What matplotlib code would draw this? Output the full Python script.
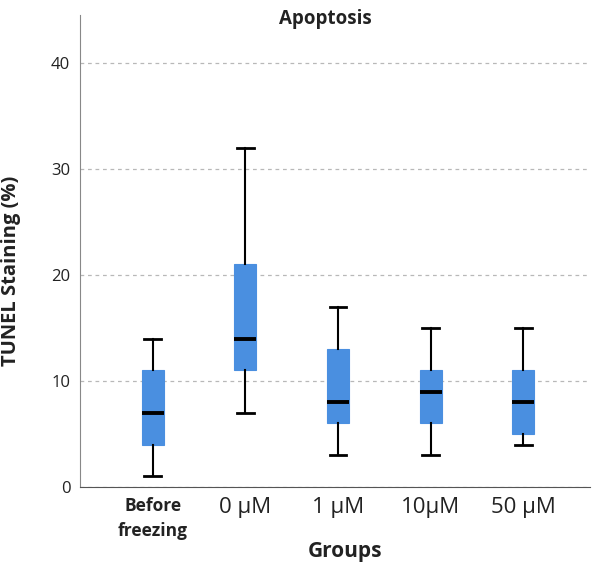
import matplotlib
matplotlib.use('Agg')
import matplotlib.pyplot as plt

# Data (TUNEL staining %)
groups  = ['Before\nfreezing', '0 \u00b5M', '1 \u00b5M', '10\u00b5M', '50 \u00b5M']
whislo  = [1, 7, 3, 3, 4]
q1      = [4, 11, 6, 6, 5]
medians = [7, 14, 8, 9, 8]
q3      = [11, 21, 13, 11, 11]
whishi  = [14, 32, 17, 15, 15]

BOX   = '#4a8fe0'
GRID  = '#b8b8b8'
TEXT  = '#222222'

plt.rcParams['font.family'] = ['Open Sans', 'DejaVu Sans']

fig = plt.figure(figsize=(5.95, 5.63), dpi=100, facecolor='white')
ax = fig.add_axes([80/595, 1 - 487/563, 510/595, 472/563])

stats = []
for i in range(len(groups)):
    stats.append(dict(whislo=whislo[i], q1=q1[i], med=medians[i],
                      q3=q3[i], whishi=whishi[i], fliers=[]))

ax.bxp(stats, positions=range(len(groups)), widths=0.24, patch_artist=True,
       showfliers=False, capwidths=0.18,
       boxprops=dict(facecolor=BOX, edgecolor=BOX, linewidth=0.8),
       medianprops=dict(color='black', linewidth=2.8),
       whiskerprops=dict(color='black', linewidth=1.5),
       capprops=dict(color='black', linewidth=2.0))

ax.set_xlim(-0.785, 4.72)
ax.set_ylim(0, 44.5)
ax.set_yticks([0, 10, 20, 30, 40])
ax.set_yticklabels(['0', '10', '20', '30', '40'], fontsize=12, color=TEXT)
ax.yaxis.grid(True, color=GRID, linestyle=(0, (3, 3)), linewidth=0.9)
ax.set_axisbelow(True)
ax.tick_params(axis='y', length=0, pad=7)
ax.tick_params(axis='x', length=0, pad=7)

ax.set_xticks(range(len(groups)))
ax.set_xticklabels(groups)
for i, lab in enumerate(ax.get_xticklabels()):
    if i == 0:
        lab.set_fontsize(12.5)
        lab.set_fontweight('bold')
        lab.set_linespacing(1.55)
    else:
        lab.set_fontsize(16)
    lab.set_color(TEXT)
    lab.set_verticalalignment('top')

for side in ['top', 'right']:
    ax.spines[side].set_visible(False)
ax.spines['left'].set_color('#888888')
ax.spines['bottom'].set_color('#555555')

ax.set_xlabel('Groups', fontsize=15, fontweight='bold', color=TEXT)
ax.xaxis.set_label_coords(0.52, -0.115)
ax.set_ylabel('TUNEL Staining (%)', fontsize=14.5, fontweight='bold', color=TEXT)
ax.yaxis.set_label_coords(-0.115, 0.458)
fig.text(325/595, 1 - 19/563, 'Apoptosis', ha='center', va='center',
         fontsize=13.5, fontweight='bold', color=TEXT)

fig.savefig('out.png', dpi=100, facecolor='white')
